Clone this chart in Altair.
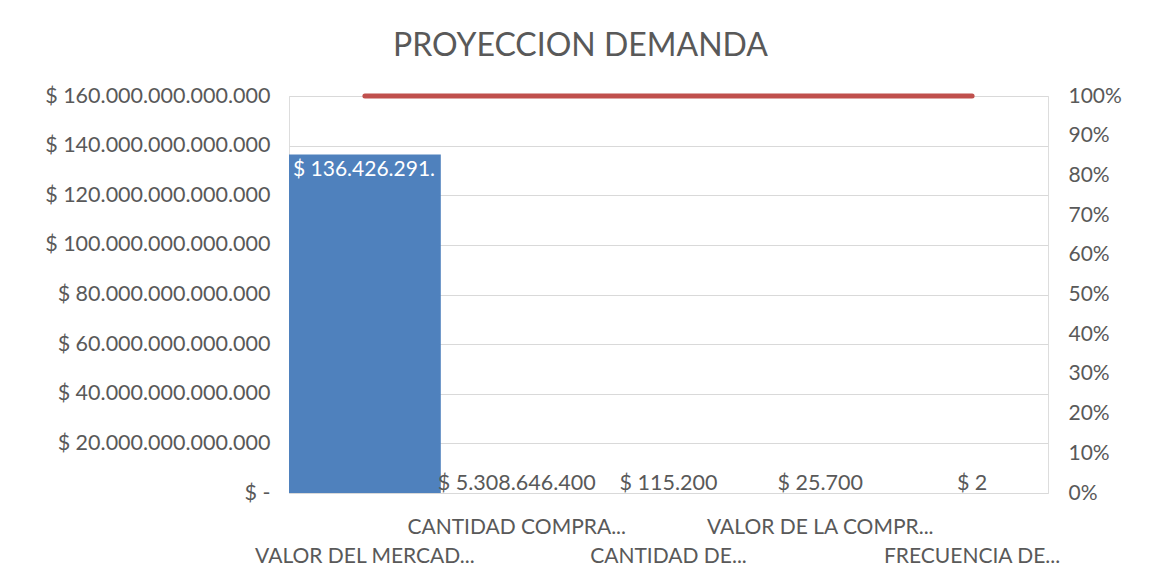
import altair as alt
import pandas as pd

# ---- data ----
categorias = ["VALOR DEL MERCAD...", "CANTIDAD COMPRA...", "CANTIDAD DE...",
              "VALOR DE LA COMPR...", "FRECUENCIA DE..."]
valores = [136426291000000, 5308646400, 115200, 25700, 2]
ticks_izq = [0, 20e12, 40e12, 60e12, 80e12, 100e12, 120e12, 140e12, 160e12]
ticks_der = [0, 0.1, 0.2, 0.3, 0.4, 0.5, 0.6, 0.7, 0.8, 0.9, 1.0]

df = pd.DataFrame({"categoria": categorias, "valor": valores})

FONT = "Lato"
GRAY = "#595959"
n = len(categorias)
FMT = "replace(format({v}, ',.0f'), regexp(',', 'g'), '.')"

x_enc = alt.X("categoria:N", sort=categorias,
              scale=alt.Scale(paddingInner=0, paddingOuter=0),
              axis=alt.Axis(title=None, domain=False, ticks=False, tickSize=0,
                            labelAngle=0, labelFontSize=21, labelFont=FONT,
                            labelColor=GRAY, labelPadding=40,
                            labelBaseline="alphabetic", labelLineHeight=29,
                            labelOverlap=False, labelLimit=400,
                            labelExpr=f"round(datum.index*{n-1}) % 2 == 1 ? datum.label : ['', datum.label]"))

y_scale = alt.Scale(domain=[0, 160e12], nice=False)

base = alt.Chart(df).transform_calculate(
    etiqueta="'$ ' + " + FMT.format(v="datum.valor")
)

barras = base.mark_bar(color="#4f81bd").encode(
    x=x_enc,
    y=alt.Y("valor:Q", scale=y_scale,
            axis=alt.Axis(title=None, values=ticks_izq, domain=False, ticks=False,
                          grid=True, gridColor="#d9d9d9", labelFontSize=21.5,
                          labelFont=FONT, labelColor=GRAY, labelPadding=19,
                          labelLimit=400,
                          labelExpr="datum.value == 0 ? '$ -' : '$ ' + " + FMT.format(v="datum.value"))),
)

texto_grande = base.transform_filter("datum.valor > 1e13").mark_text(
    align="left", baseline="alphabetic", dx=4, dy=22, fontSize=21, font=FONT,
    color="white", limit=148, ellipsis="\u200b"
).encode(
    x=alt.X("categoria:N", sort=categorias, bandPosition=0),
    y=alt.Y("valor:Q", scale=y_scale),
    text="etiqueta:N",
)

texto_chico = base.transform_filter("datum.valor <= 1e13").mark_text(
    align="center", baseline="alphabetic", dy=-3, fontSize=21.5, font=FONT,
    color=GRAY
).encode(
    x=alt.X("categoria:N", sort=categorias),
    y=alt.Y("valor:Q", scale=y_scale),
    text="etiqueta:N",
)

izq = alt.layer(barras, texto_grande, texto_chico)

linea = alt.Chart(df).transform_window(
    acum="sum(valor)", sort=[alt.SortField("valor", order="descending")],
    frame=[None, 0]
).transform_joinaggregate(
    total="sum(valor)"
).transform_calculate(
    pct="datum.acum / datum.total"
).mark_line(color="#c0504d", strokeWidth=5, strokeCap="round").encode(
    x=alt.X("categoria:N", sort=categorias),
    y=alt.Y("pct:Q", scale=alt.Scale(domain=[0, 1], nice=False),
            axis=alt.Axis(orient="right", title=None, values=ticks_der, format=".0%",
                          domain=False, ticks=False, grid=False, labelFontSize=21,
                          labelFont=FONT, labelColor=GRAY, labelPadding=20)),
)

chart = alt.layer(izq, linea).resolve_scale(y="independent").properties(
    width=759, height=397,
    autosize=alt.AutoSizeParams(type="none"),
    padding={"left": 281, "top": 88, "right": 85, "bottom": 74},
    title=alt.TitleParams("PROYECCION DEMANDA", fontSize=32, font=FONT,
                          fontWeight="normal", color=GRAY, frame="group",
                          anchor="middle", dx=-88, dy=25, baseline="alphabetic",
                          offset=22),
).configure_view(stroke="#d9d9d9", strokeWidth=1).configure(background="white")

chart.save("out.html", embed_options={"renderer": "svg", "actions": False})
